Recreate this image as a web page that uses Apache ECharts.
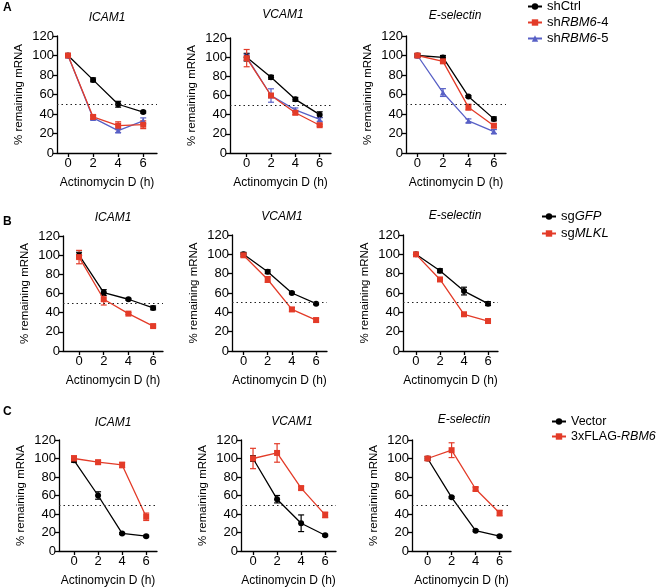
<!DOCTYPE html>
<html>
<head>
<meta charset="utf-8">
<script src="https://cdn.jsdelivr.net/npm/echarts@6/dist/echarts.min.js"></script>
<style>
html,body{margin:0;padding:0;background:#fff;}
#chart{width:658px;height:588px;}
</style>
</head>
<body>
<div id="chart"></div>
<script>
// ---------- data ----------
const hours = [0, 2, 4, 6];
const yTicks = [0, 20, 40, 60, 80, 100, 120];
const xTicks = [0, 2, 4, 6];
const genes = ['ICAM1', 'VCAM1', 'E-selectin'];

// Panel A (shCtrl / shRBM6-4 / shRBM6-5)
const aIcamCtrl = [100, 75, 50, 42];   const aIcamCtrlErr = [2, 2, 3, 1];
const aIcam4    = [100, 37, 28, 29];   const aIcam4Err    = [1, 2, 4, 4];
const aIcam5    = [100, 36, 23, 33];   const aIcam5Err    = [1, 2, 2, 3];
const aVcamCtrl = [100, 79, 56, 40];   const aVcamCtrlErr = [4, 2, 2, 3];
const aVcam4    = [99, 60, 42, 29];    const aVcam4Err    = [9, 2, 2, 1];
const aVcam5    = [100, 60, 45, 35];   const aVcam5Err    = [3, 7, 2, 2];
const aSelCtrl  = [100, 98, 58, 35];   const aSelCtrlErr  = [2, 2, 1, 2];
const aSel4     = [100, 94, 47, 28];   const aSel4Err     = [2, 2, 3, 2];
const aSel5     = [100, 62, 33, 22];   const aSel5Err     = [1, 4, 2, 2];

// Panel B (sgGFP / sgMLKL)
const bIcamGfp  = [100, 61, 54, 45];   const bIcamGfpErr  = [3, 3, 1, 2];
const bIcamMlkl = [98, 54, 39, 26];    const bIcamMlklErr = [7, 6, 1, 1];
const bVcamGfp  = [100, 82, 60, 49];   const bVcamGfpErr  = [2, 2, 1, 1];
const bVcamMlkl = [99, 74, 43, 32];    const bVcamMlklErr = [2, 3, 2, 2];
const bSelGfp   = [100, 83, 62, 49];   const bSelGfpErr   = [1, 2, 4, 2];
const bSelMlkl  = [100, 74, 38, 31];   const bSelMlklErr  = [1, 2, 1, 1];

// Panel C (Vector / 3xFLAG-RBM6)
const cIcamVec  = [98, 60, 19, 16];    const cIcamVecErr  = [2, 4, 1, 1];
const cIcamFlag = [100, 96, 93, 37];   const cIcamFlagErr = [3, 2, 3, 4];
const cVcamVec  = [100, 56, 30, 17];   const cVcamVecErr  = [3, 4, 9, 1];
const cVcamFlag = [100, 106, 68, 39];  const cVcamFlagErr = [11, 10, 2, 3];
const cSelVec   = [100, 58, 22, 16];   const cSelVecErr   = [2, 1, 1, 1];
const cSelFlag  = [100, 109, 67, 41];  const cSelFlagErr  = [2, 8, 2, 3];

const legendA = ['shCtrl', 'shRBM6-4', 'shRBM6-5'];
const legendB = ['sgGFP', 'sgMLKL'];
const legendC = ['Vector', '3xFLAG-RBM6'];

// ---------- styles ----------
const BLACK = '#000000', RED = '#e33b28', BLUE = '#5860c6';
const FONT = 'Arial, "Liberation Sans", Helvetica, sans-serif';
const styleOf = {
  'shCtrl':      {color: BLACK, symbol: 'circle'},
  'shRBM6-4':    {color: RED,   symbol: 'rect'},
  'shRBM6-5':    {color: BLUE,  symbol: 'triangle'},
  'sgGFP':       {color: BLACK, symbol: 'circle'},
  'sgMLKL':      {color: RED,   symbol: 'rect'},
  'Vector':      {color: BLACK, symbol: 'circle'},
  '3xFLAG-RBM6': {color: RED,   symbol: 'rect'}
};

// grid layouts (pixels) and x extents
const grids = [
  {left: 57,  top: 36,  width: 100, height: 117, xmin: -0.88, xmax: 7.1},
  {left: 230, top: 38,  width: 101, height: 115, xmin: -1.37, xmax: 6.93},
  {left: 406, top: 36,  width: 100, height: 117, xmin: -0.9,  xmax: 6.95},
  {left: 63,  top: 236, width: 100, height: 115, xmin: -1.3,  xmax: 6.8},
  {left: 232, top: 235, width: 95,  height: 116, xmin: -0.95, xmax: 6.9},
  {left: 403, top: 235, width: 95,  height: 116, xmin: -1.08, xmax: 6.83},
  {left: 59,  top: 440, width: 98,  height: 114, xmin: -1.25, xmax: 6.9},
  {left: 241, top: 440, width: 95,  height: 114, xmin: -1.0,  xmax: 6.9},
  {left: 412, top: 440, width: 99,  height: 113, xmin: -1.3,  xmax: 6.95}
];

const panelSeries = [
  [['shCtrl', aIcamCtrl, aIcamCtrlErr], ['shRBM6-5', aIcam5, aIcam5Err], ['shRBM6-4', aIcam4, aIcam4Err]],
  [['shCtrl', aVcamCtrl, aVcamCtrlErr], ['shRBM6-5', aVcam5, aVcam5Err], ['shRBM6-4', aVcam4, aVcam4Err]],
  [['shCtrl', aSelCtrl, aSelCtrlErr],   ['shRBM6-5', aSel5, aSel5Err],   ['shRBM6-4', aSel4, aSel4Err]],
  [['sgGFP', bIcamGfp, bIcamGfpErr], ['sgMLKL', bIcamMlkl, bIcamMlklErr]],
  [['sgGFP', bVcamGfp, bVcamGfpErr], ['sgMLKL', bVcamMlkl, bVcamMlklErr]],
  [['sgGFP', bSelGfp, bSelGfpErr],   ['sgMLKL', bSelMlkl, bSelMlklErr]],
  [['Vector', cIcamVec, cIcamVecErr], ['3xFLAG-RBM6', cIcamFlag, cIcamFlagErr]],
  [['Vector', cVcamVec, cVcamVecErr], ['3xFLAG-RBM6', cVcamFlag, cVcamFlagErr]],
  [['Vector', cSelVec, cSelVecErr],   ['3xFLAG-RBM6', cSelFlag, cSelFlagErr]]
];

const titlePos = [[107, 18], [283, 15], [455, 16], [113, 218], [282, 217], [455, 216], [113, 423], [292, 422], [464, 420]];

// ---------- build option ----------
const gridOpt = [], xAxes = [], yAxes = [], series = [];
grids.forEach((g, i) => {
  gridOpt.push({left: g.left, top: g.top, width: g.width, height: g.height});
  xAxes.push({
    type: 'value', gridIndex: i, min: g.xmin, max: g.xmax,
    axisLine: {show: true, onZero: false, lineStyle: {color: '#000', width: 1.3}},
    axisTick: {show: true, customValues: xTicks, length: 4, lineStyle: {color: '#000', width: 1.3}},
    axisLabel: {customValues: xTicks, fontSize: 13, color: '#000', margin: 4, fontFamily: FONT},
    splitLine: {show: false},
    name: 'Actinomycin D (h)', nameLocation: 'middle', nameGap: 24,
    nameTextStyle: {fontSize: 12, color: '#000', fontFamily: FONT}
  });
  yAxes.push({
    type: 'value', gridIndex: i, min: yTicks[0], max: yTicks[yTicks.length - 1], interval: 20,
    axisLine: {show: true, onZero: false, lineStyle: {color: '#000', width: 1.3}},
    axisTick: {show: true, length: 4, lineStyle: {color: '#000', width: 1.3}},
    axisLabel: {fontSize: 13, color: '#000', margin: 3, fontFamily: FONT},
    splitLine: {show: false},
    name: '% remaining mRNA', nameLocation: 'middle', nameGap: 32,
    nameTextStyle: {fontSize: 11.5, color: '#000', fontFamily: FONT}
  });

  const list = panelSeries[i];
  // error bars first (drawn beneath lines)
  list.forEach(([name, mean, err]) => {
    const st = styleOf[name];
    series.push({
      type: 'custom', name: name + ' SEM', xAxisIndex: i, yAxisIndex: i, silent: true, z: 2,
      data: hours.map((h, k) => [h, mean[k] - err[k], mean[k] + err[k]]),
      encode: {x: 0, y: [1, 2]},
      renderItem: function (params, api) {
        const x = api.value(0);
        const lo = api.coord([x, api.value(1)]);
        const hi = api.coord([x, api.value(2)]);
        const w = 3;
        const s = {stroke: st.color, lineWidth: 1.2};
        return {type: 'group', children: [
          {type: 'line', shape: {x1: lo[0], y1: lo[1], x2: hi[0], y2: hi[1]}, style: s},
          {type: 'line', shape: {x1: lo[0] - w, y1: lo[1], x2: lo[0] + w, y2: lo[1]}, style: s},
          {type: 'line', shape: {x1: hi[0] - w, y1: hi[1], x2: hi[0] + w, y2: hi[1]}, style: s}
        ]};
      }
    });
  });
  list.forEach(([name, mean], k) => {
    const st = styleOf[name];
    const s = {
      type: 'line', name: name, xAxisIndex: i, yAxisIndex: i, z: 3,
      data: hours.map((h, j) => [h, mean[j]]),
      symbol: st.symbol, symbolSize: 6,
      showAllSymbol: true,
      lineStyle: {color: st.color, width: 1.3},
      itemStyle: {color: st.color},
      emphasis: {disabled: true}
    };
    if (k === 0) {
      s.markLine = {
        silent: true, symbol: 'none', label: {show: false},
        lineStyle: {type: [1.5, 3], color: '#222', width: 1},
        data: [{yAxis: 50}]
      };
    }
    series.push(s);
  });
});

function legendFmt(name) {
  const map = {
    'shRBM6-4': 'sh{i|RBM6}-4',
    'shRBM6-5': 'sh{i|RBM6}-5',
    'sgGFP': 'sg{i|GFP}',
    'sgMLKL': 'sg{i|MLKL}',
    '3xFLAG-RBM6': '3xFLAG-{i|RBM6}'
  };
  return map[name] || name;
}
function makeLegend(data, left, top, gap, fs) {
  return {
    orient: 'vertical', left: left, top: top, padding: 0, itemGap: gap,
    itemWidth: 14, itemHeight: 8, selectedMode: false,
    data: data, formatter: legendFmt,
    textStyle: {fontSize: fs, color: '#000', fontFamily: FONT, overflow: 'none',
      rich: {i: {fontStyle: 'italic', fontSize: fs, color: '#000', fontFamily: FONT}}}
  };
}

const graphics = [];
titlePos.forEach((p, i) => {
  graphics.push({type: 'text', x: p[0], y: p[1],
    style: {text: genes[i % 3], align: 'center', verticalAlign: 'middle',
      font: 'italic 12px ' + FONT, fill: '#000'}});
});
[['A', 3, 8], ['B', 3, 222], ['C', 3, 412]].forEach(([t, x, y]) => {
  graphics.push({type: 'text', x: x, y: y,
    style: {text: t, align: 'left', verticalAlign: 'middle', font: 'bold 12px ' + FONT, fill: '#000'}});
});

const option = {
  animation: false,
  backgroundColor: '#fff',
  textStyle: {fontFamily: FONT},
  grid: gridOpt,
  xAxis: xAxes,
  yAxis: yAxes,
  legend: [
    makeLegend(legendA, 527, 0, 3, 13),
    makeLegend(legendB, 541, 210, 4, 13),
    makeLegend(legendC, 551, 415, 2, 12.5)
  ],
  graphic: graphics,
  series: series
};

const chart = echarts.init(document.getElementById('chart'), null, {renderer: 'canvas'});
chart.setOption(option);
</script>
</body>
</html>
